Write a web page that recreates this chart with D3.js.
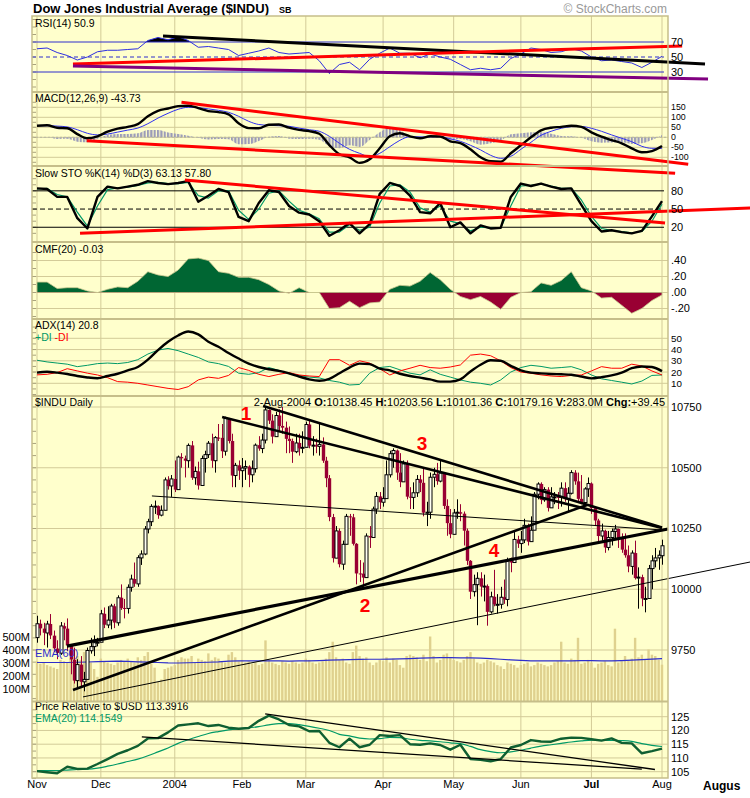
<!DOCTYPE html>
<html><head><meta charset="utf-8">
<script src="https://cdn.jsdelivr.net/npm/d3@7"></script>
<style>body{margin:0;background:#fff}svg{display:block;font-family:"Liberation Sans",Arial,sans-serif}</style>
</head><body><svg id="c" width="750" height="798"></svg>
<script>
// ---------------- DATA ----------------
const monthIdx = [0,19,41,61,80,103,124,144,165,186];
const monthLabels = ['Nov','Dec','2004','Feb','Mar','Apr','May','Jun','Jul','Aug'];

const open = [9801,9858,9838,9820,9857,9809,9756,9737,9848,9838,9768,9710,9624,9690,9619,9629,9747,9764,9780,
9782,9899,9853,9873,9930,9862,9965,9923,9921,10008,10042,10022,10129,10145,10248,10278,10341,10342,10305,10325,10450,10425,
10454,10410,10544,10538,10529,10592,10459,10485,10427,10538,10554,10601,10529,10624,10623,10568,10702,10610,10468,10510,
10488,10499,10505,10471,10496,10593,10579,10614,10738,10694,10628,10715,10672,10665,10619,10610,10566,10602,10580,
10584,10678,10591,10593,10588,10596,10529,10457,10297,10128,10240,10103,10185,10300,10296,10187,10065,10064,10048,10219,10213,10330,10382,
10358,10373,10471,10558,10571,10480,10442,10516,10381,10378,10397,10452,10438,10315,10317,10461,10473,10445,10478,10343,10272,
10226,10314,10317,10311,10241,10117,9990,10019,10045,10011,10013,9907,9969,9938,9938,9967,9958,10118,10110,10205,
10188,10203,10263,10196,10243,10391,10433,10368,10410,10335,10380,10380,10378,10416,10371,10395,10480,10444,10372,10357,10413,
10435,10334,10283,10219,10240,10172,10213,10238,10248,10209,10163,10140,10094,10149,10046,10050,9962,9962,10085,10117,10129,
10138];
const high = [9891,9875,9862,9870,9898,9830,9790,9865,9862,9880,9770,9760,9712,9725,9660,9760,9800,9810,9800,
9915,9925,9930,9940,9940,9975,10020,9960,10020,10060,10110,10140,10160,10260,10290,10350,10365,10345,10345,10460,10465,10470,
10530,10550,10560,10550,10600,10610,10505,10525,10550,10570,10610,10640,10630,10680,10680,10710,10705,10640,10520,10530,
10540,10530,10510,10530,10600,10630,10640,10753,10740,10720,10730,10740,10750,10690,10670,10620,10640,10640,10650,
10690,10700,10630,10620,10680,10625,10545,10470,10310,10260,10250,10200,10310,10310,10310,10190,10120,10110,10230,10260,10340,10400,10400,
10420,10530,10570,10580,10575,10560,10530,10530,10420,10440,10470,10470,10500,10360,10480,10500,10520,10535,10480,10370,10330,
10330,10370,10350,10320,10250,10120,10060,10070,10070,10060,10020,9990,10080,9980,10010,10040,10130,10130,10240,10220,
10240,10290,10270,10300,10400,10440,10440,10420,10420,10420,10400,10400,10440,10440,10420,10490,10490,10480,10470,10420,10460,
10440,10340,10290,10270,10245,10240,10250,10265,10250,10230,10230,10180,10160,10200,10090,10060,10010,10100,10140,10170,10160,
10204];
const low = [9780,9810,9770,9760,9795,9742,9712,9730,9790,9745,9650,9612,9595,9600,9580,9629,9735,9725,9765,
9782,9840,9840,9835,9840,9850,9915,9880,9900,9990,10010,10010,10100,10140,10230,10260,10310,10290,10300,10325,10410,10380,
10400,10410,10500,10460,10500,10450,10430,10410,10427,10480,10540,10500,10480,10610,10540,10550,10600,10420,10420,10450,
10420,10450,10420,10440,10480,10570,10560,10600,10680,10600,10628,10650,10640,10560,10560,10520,10560,10550,10560,
10584,10580,10550,10560,10550,10520,10420,10280,10110,10128,10090,10080,10185,10220,10180,10020,10030,10005,10048,10170,10213,10310,10330,
10340,10373,10460,10500,10450,10420,10442,10370,10330,10330,10380,10400,10300,10260,10290,10420,10430,10440,10330,10220,10210,
10226,10290,10280,10180,10100,9960,9970,9852,9970,9950,9850,9900,9930,9900,9920,9940,9930,10070,10110,10170,
10150,10190,10180,10196,10243,10370,10350,10360,10320,10335,10350,10330,10340,10360,10320,10390,10430,10360,10350,10350,10380,
10310,10260,10190,10200,10150,10160,10180,10210,10170,10150,10130,10070,10060,10040,9920,9930,9905,9962,10000,10090,10080,
10101];
const close = [9858,9839,9821,9857,9810,9757,9738,9849,9838,9769,9711,9624,9690,9619,9629,9748,9764,9780,9782,
9899,9854,9873,9931,9863,9965,9923,9922,10008,10042,10023,10130,10145,10248,10278,10341,10342,10305,10325,10450,10425,10454,
10410,10544,10539,10529,10592,10459,10485,10427,10538,10554,10601,10529,10624,10623,10568,10703,10610,10468,10510,10488,
10499,10505,10471,10496,10593,10579,10614,10738,10694,10628,10715,10672,10665,10619,10610,10566,10602,10580,10584,
10678,10591,10593,10588,10596,10529,10457,10297,10128,10240,10103,10185,10300,10296,10187,10065,10064,10048,10219,10213,10330,10382,10358,
10373,10471,10558,10571,10480,10442,10516,10381,10378,10397,10452,10438,10315,10317,10461,10473,10445,10478,10343,10272,10226,
10314,10317,10311,10241,10117,9990,10019,10045,10011,10013,9907,9969,9938,9938,9967,9958,10118,10110,10205,10188,
10203,10263,10196,10243,10391,10433,10368,10410,10335,10380,10380,10378,10416,10371,10395,10480,10444,10372,10357,10413,10435,
10334,10283,10219,10240,10172,10213,10238,10248,10209,10163,10140,10094,10149,10046,10050,9962,9962,10085,10117,10129,10140,
10179];
const volume = [310,290,300,280,270,260,250,320,310,300,330,340,350,320,380,330,300,250,190,
330,310,300,290,280,300,320,310,330,310,300,340,320,350,380,290,260,150,170,250,260,270,
280,320,340,330,330,350,300,330,320,310,370,320,340,330,310,300,360,380,340,310,
320,300,310,290,300,280,290,470,320,300,290,280,310,300,290,310,300,290,300,
330,320,300,290,300,310,330,380,460,340,320,330,300,290,380,430,350,330,340,300,280,300,320,
310,340,300,330,320,280,260,350,360,350,340,320,360,310,500,350,300,320,360,370,340,
320,310,300,320,350,380,330,300,290,300,320,310,300,280,270,250,300,290,280,260,
280,290,300,270,280,300,290,280,270,280,300,310,460,300,290,330,320,490,290,300,320,
300,260,290,300,310,280,270,560,300,310,350,320,330,490,340,360,320,400,360,350,320,
283];

// indicator readings, one every third trading day
const sampleIdx = [0,3,6,9,12,15,18,21,24,27,30,33,36,39,42,45,48,51,54,57,60,63,66,69,72,75,78,81,84,87,90,93,96,99,102,105,108,111,114,117,120,123,126,129,132,135,138,141,144,147,150,153,156,159,162,165,168,171,174,177,180,183,186];
const rsi = [61,62,56,52,46,50,57,59,59,60, 61,72,76,73,77,72,63,64,62,60, 52,55,58,62,56,54,55,56,45,28, 40,43,33,47,55,62,55,55,49,54, 50,47,40,33,35,33,35,48,54,62, 60,56,57,61,58,50,45,46,44,42, 36,43,50.9];
const macd = [58,60,48,45,16,-5,5,28,43,52, 66,105,132,144,156,158,146,131,126,115, 70,46,45,63,64,48,37,31,18,-39, -85,-100,-128,-110,-55,5,20,5,-5,5, 4,-20,-29,-60,-100,-120,-122,-80,-40,0, 35,48,52,58,52,25,3,-14,-30,-55, -75,-69,-43.73];
const macdSignal = [58,58,56,52,38,20,12,16,26,36, 46,68,96,120,140,150,148,142,135,125, 105,80,64,60,58,55,46,38,30,5, -30,-60,-80,-97,-80,-47,-15,3,2,2, 3,-8,-20,-40,-63,-90,-105,-95,-60,-25, 10,30,45,53,54,45,30,12,-5,-22, -45,-55,-55];
const macdHist = [0,2,-8,-7,-22,-25,-7,12,17,16, 20,37,36,24,16,8,-2,-11,-9,-10, -35,-34,-19,3,6,-7,-9,-7,-12,-44, -55,-40,-48,-13,25,52,35,2,-7,3, 1,-12,-9,-20,-37,-30,-17,15,20,25, 25,18,7,5,-2,-20,-27,-26,-25,-33, -30,-14,11];
const stoK = [84,83,70,70,35,18,70,87,84,87, 90,96,93,91,93,96,62,72,83,78, 37,30,60,81,78,55,44,41,30,6, 15,27,10,25,75,93,88,72,45,43, 60,20,28,10,23,18,19,70,92,88, 92,87,83,84,57,30,13,15,12,10, 14,38,63.13];
const stoD = [83,84,74,70,45,22,55,82,85,86, 89,93,94,92,92,94,72,68,80,80, 48,33,50,76,80,63,48,42,34,12, 12,24,15,20,60,88,90,78,52,45, 55,30,26,14,20,19,19,55,88,89, 91,88,84,84,65,38,18,15,13,11, 13,30,57.8];
const cmf = [0.13,0.13,0.05,0.06,0.06,0.02,0.0,0.04,0.07,0.06, 0.14,0.26,0.22,0.2,0.28,0.42,0.43,0.4,0.26,0.24, 0.19,0.19,0.16,0.1,0.02,-0.01,0.06,0.0,0.0,-0.2, -0.19,-0.11,-0.19,-0.13,-0.12,0.04,0.09,0.08,0.14,0.25, 0.16,0.04,-0.05,-0.09,-0.05,-0.12,-0.21,-0.06,0.0,0.01, 0.12,0.09,0.15,0.26,0.06,0.02,-0.07,-0.06,-0.16,-0.26, -0.2,-0.1,-0.03];
const adx = [19.5,20.3,19.5,18.3,16.5,15.2,14.5,16.5,18.5,21.5, 24.5,31,39.5,47,52.5,56,53.5,47,42.5,37, 32,27.5,24.5,22.5,21,18.8,16,13.5,12.3,14, 19,24,27.5,27,23,21.5,18.5,16.5,15,13.5, 11.5,11.5,13.5,20.5,26.5,30.5,30,25.5,21.5,19.5, 18.8,18.3,18,17.6,16,14.4,15.5,17,19.5,23.4, 25,24.5,20.8];
const plusDI = [30.5,29,28,27,24.8,26,27.5,28,27.5,28.5, 31,36,39.5,41,39,36,33,29,27.5,25, 19,18,19.5,24,21.5,18.5,17,15.5,14.8,12.5, 11,8.5,9,19,24,25,22,19,17.5,22, 18,15.5,13,11,10,8.5,13,20,24,26, 25,23.4,24,24.8,22,17.4,14,12.5,11,9.4, 12,17,17.4];
const minusDI = [17.5,18,19.5,23,21,19,17.4,15,11.5,11, 10,8.5,7,5.5,4.5,7,13,15.5,14.4,17, 24,21.5,18,16,18,19.5,17.4,16.5,16,31, 31,26,30,28,23,17.4,21,23.4,26,24, 23.4,24.5,26.3,35,36,34.5,30,24,20,18.9, 17.5,16.5,16,17,17.4,21,24.8,23.4,23.4,27, 25.4,21,17.4];
const relUSD = [105.2,104.8,104.4,106.8,106,106.1,107.8,109.6,111.5,112.8, 114.4,117.1,117.2,119.3,121.8,122.2,122.6,121.6,122,121, 120.6,120.9,123.5,125.4,124,122,121.5,119.7,119.8,115.5, 113.9,117,113.9,114.8,118.3,118,118.3,115,114.8,115.3, 114.7,113,114.8,109.6,109.3,108.8,109.6,113.8,114.7,116.5, 116,115.9,117,117.4,117.3,116.8,116.3,117.1,115.5,115.3, 111.7,112.5,113.4];
const relEMA = [105.4,105.4,105.4,105.6,105.8,105.9,106.3,107,107.8,108.7, 109.6,110.8,112.2,113.6,115.3,116.6,117.8,118.9,119.6,120.2, 120.6,120.9,121.4,122,122.5,122.5,122.1,121.5,120.8,120, 118.6,118,117.2,116.9,117,117.5,117.4,116.8,116.4,116.2, 115.9,115.5,115.2,114.2,113,112.3,111.9,112.2,112.8,113.6, 114.3,114.8,115.3,115.8,116.2,116.5,116.4,116.4,116.3,116, 115.2,114.6,114.15];
const volEMA = [300,300,300,300,302,304,306,308,310,308, 305,303,300,297,296,298,300,302,305,310, 312,312,312,313,312,311,312,313,315,318, 320,322,324,325,325,326,328,330,333,336, 338,338,336,335,333,330,325,320,316,313, 312,312,312,313,314,314,313,312,315,318, 322,326,330];

// hand-drawn trendlines: [startIndex, startValue, endIndex, endValue]
const rsiTrend = [[37.5,78,198.8,40.7],[10.7,40.7,192,64.7],[10.7,38,199.7,20.7]];
const rsiTrendColors = ['#000000','#FF0000','#800080'];
const macdTrend = [[43,175,193.8,-135],[14.8,-17,189.9,-180]];
const stoTrend = [[44,97.9,186.9,27],[12.8,10,212.2,51.7]];
const priceTrend = [[55.1,10709,186,10252],[67.3,10754,186,10254],[34.2,10384,186,10244],[10.7,9585,163.7,10347],[8.9,9766,187.8,10248],[13.7,9557,212.2,10112]];
const priceTrendWidth = [2.6,2.6,1,2.6,3.2,1];
const relTrend = [[67.9,126,183.9,105.8],[31.2,117.7,180,105.9]];
const waveLabels = ['1','2','3','4'];
const waveIdx = [62.2,97.6,114.6,136];
const wavePrice = [10696,9906,10573,10133];

const rsiTicks=[70,50,30], macdTicks=[150,100,50,0,-50,-100], stoTicks=[80,50,20], cmfTicks=[0.4,0.2,0,-0.2],
      adxTicks=[50,40,30,20,10], priceTicks=[10750,10500,10250,10000,9750], volTicks=[500,400,300,200,100], relTicks=[125,120,115,110,105];
const headerKeys=['O:','H:','L:','C:','V:','Chg:'];
const headerVals=['10138.45','10203.56','10101.36','10179.16','283.0M','+39.45'];

// ---------------- DRAW ----------------
const svg = d3.select('#c');
const L=32, R=668, BG='#FFFFCC', GRID='#D3CB98', SEP='#C6BE8A';
const x = d3.scaleLinear().domain([0,186]).range([37,662]);
const panels = {rsi:[16,92], macd:[92,166], sto:[166,242], cmf:[242,319], adx:[319,396], price:[396,701.5], rel:[701.5,778]};
const yRsi = d3.scaleLinear().domain([0,100]).range([94.5,19.5]);
const yMacd = d3.scaleLinear().domain([-100,150]).range([157.3,107.3]);
const ySto = d3.scaleLinear().domain([0,100]).range([239.4,178.7]);
const yCmf = d3.scaleLinear().domain([-0.2,0.4]).range([308.5,260.5]);
const yAdx = d3.scaleLinear().domain([10,50]).range([383.3,338.3]);
const yPrice = d3.scaleLinear().domain([9750,10750]).range([650,407]);
const yVol = d3.scaleLinear().domain([0,500]).range([701.5,636.5]);
const yRel = d3.scaleLinear().domain([105,125]).range([771.7,716.7]);

const defs = svg.append('defs');
Object.entries(panels).forEach(([k,[t,b]])=>{
  defs.append('clipPath').attr('id','cl-'+k).append('rect').attr('x',L).attr('y',t).attr('width',R-L).attr('height',b-t);
});
const pat = defs.append('pattern').attr('id','hst').attr('patternUnits','userSpaceOnUse').attr('x',x(0)-1).attr('y',0).attr('width',x(1)-x(0)).attr('height',20);
pat.append('rect').attr('width',2.2).attr('height',20).attr('fill','#9C9CB8');

svg.append('rect').attr('x',L).attr('y',16).attr('width',R-L).attr('height',778-16).attr('fill',BG);

// titles
svg.append('text').attr('x',33).attr('y',13).attr('font-size',13).attr('font-weight','bold').text('Dow Jones Industrial Average ($INDU)');
svg.append('text').attr('x',279).attr('y',12.5).attr('font-size',9).attr('font-weight','bold').text('SB');
svg.append('text').attr('x',667).attr('y',13).attr('text-anchor','end').attr('font-size',12).attr('fill','#999').text('\u00A9 StockCharts.com');

// month grid + horizontal grids
const gridG = svg.append('g');
Object.entries(panels).forEach(([k,[t,b]])=>{
  monthIdx.forEach(m=>gridG.append('line').attr('x1',x(m)).attr('x2',x(m)).attr('y1',t).attr('y2',b).attr('stroke',GRID));
});
function hgrid(vals, ys){ vals.forEach(v=>gridG.append('line').attr('x1',L).attr('x2',R).attr('y1',ys(v)).attr('y2',ys(v)).attr('stroke',GRID)); }
hgrid(macdTicks,yMacd); hgrid(cmfTicks,yCmf); hgrid(adxTicks,yAdx); hgrid(priceTicks,yPrice); hgrid(relTicks,yRel);
function lticks(ys, lo, hi, step){ for(let v=lo; v<=hi+1e-9; v+=step){ const yy=ys(v); gridG.append('line').attr('x1',L).attr('x2',L+4).attr('y1',yy).attr('y2',yy).attr('stroke','#A9A27E'); } }
lticks(yRsi,10,100,10); lticks(yMacd,-125,175,25); lticks(ySto,10,100,10); lticks(yCmf,-0.3,0.5,0.1); lticks(yAdx,0,60,5); lticks(yPrice,9550,10800,50); lticks(yRel,102.5,127.5,2.5);

// helpers
const samp = arr => sampleIdx.map((s,k)=>[s,arr[k]]);
function line(arr, ys, color, w, clipK, curve){
  svg.append('path').datum(samp(arr)).attr('d', d3.line().x(d=>x(d[0])).y(d=>ys(d[1])).curve(curve||d3.curveLinear))
    .attr('fill','none').attr('stroke',color).attr('stroke-width',w).attr('stroke-linejoin','round').attr('clip-path',clipK?`url(#cl-${clipK})`:null);
}
function trend(t, ys, color, w){
  svg.append('line').attr('x1',x(t[0])).attr('y1',ys(t[1])).attr('x2',x(t[2])).attr('y2',ys(t[3])).attr('stroke',color).attr('stroke-width',w);
}
function rlabels(vals, ys, fmt, fs){ const f=fs||11; vals.forEach(v=>svg.append('text').attr('x',671).attr('y',ys(v)+f*0.36).attr('font-size',f).text(fmt?fmt(v):v)); }
function title(txt, yy, color, fs){ return svg.append('text').attr('x',35).attr('y',yy).attr('font-size',fs||11).attr('fill',color||'#000').text(txt); }

// ---- RSI ----
const clipTop = defs.append('clipPath').attr('id','rsiTop'); clipTop.append('rect').attr('x',L).attr('y',16).attr('width',R-L).attr('height',yRsi(70)-16);
const clipBot = defs.append('clipPath').attr('id','rsiBot'); clipBot.append('rect').attr('x',L).attr('y',yRsi(30)).attr('width',R-L).attr('height',92-yRsi(30));
svg.append('path').datum(samp(rsi)).attr('d',d3.area().x(d=>x(d[0])).y0(yRsi(70)).y1(d=>yRsi(d[1]))).attr('fill','#000').attr('clip-path','url(#rsiTop)');
svg.append('path').datum(samp(rsi)).attr('d',d3.area().x(d=>x(d[0])).y0(yRsi(30)).y1(d=>yRsi(d[1]))).attr('fill','#000').attr('clip-path','url(#rsiBot)');
[70,30].forEach(v=>svg.append('line').attr('x1',L).attr('x2',R-4).attr('y1',yRsi(v)).attr('y2',yRsi(v)).attr('stroke','#2E2ECC'));
svg.append('line').attr('x1',L).attr('x2',R-4).attr('y1',yRsi(50)).attr('y2',yRsi(50)).attr('stroke','#2E2ECC').attr('stroke-dasharray','4,3');
line(rsi,yRsi,'#2E2EE0',1,'rsi');
rsiTrend.forEach((t,k)=>trend(t,yRsi,rsiTrendColors[k],3));
title('RSI(14)  50.9',26.5,null,10.5);
rlabels(rsiTicks,yRsi);

// ---- MACD ----
svg.append('path').datum(samp(macdHist)).attr('d',d3.area().x(d=>x(d[0])).y0(yMacd(0)).y1(d=>yMacd(d[1])).curve(d3.curveMonotoneX))
  .attr('fill','url(#hst)').attr('clip-path','url(#cl-macd)');
svg.append('line').attr('x1',L).attr('x2',R).attr('y1',yMacd(0)).attr('y2',yMacd(0)).attr('stroke','#B8B8A0').attr('stroke-dasharray','2,2');
line(macdSignal,yMacd,'#3030F0',1,'macd',d3.curveMonotoneX);
line(macd,yMacd,'#000',2.4,'macd',d3.curveMonotoneX);
macdTrend.forEach(t=>trend(t,yMacd,'#FF0000',3));
title('MACD(12,26,9)  -43.73',101.5,null,10.5);
rlabels(macdTicks,yMacd,null,8.8);

// ---- Slow STO ----
[80,20].forEach(v=>svg.append('line').attr('x1',L).attr('x2',R-4).attr('y1',ySto(v)).attr('y2',ySto(v)).attr('stroke','#000'));
svg.append('line').attr('x1',L).attr('x2',R-4).attr('y1',ySto(50)).attr('y2',ySto(50)).attr('stroke','#000').attr('stroke-dasharray','5,3');
line(stoD,ySto,'#009966',1.2,'sto');
line(stoK,ySto,'#000',2.4,'sto');
stoTrend.forEach(t=>trend(t,ySto,'#FF0000',3));
title('Slow STO %K(14) %D(3)  63.13  57.80',177,null,10.5);
rlabels(stoTicks,ySto);

// ---- CMF ----
const cPos = defs.append('clipPath').attr('id','cmfPos'); cPos.append('rect').attr('x',L).attr('y',242).attr('width',R-L).attr('height',yCmf(0)-242);
const cNeg = defs.append('clipPath').attr('id','cmfNeg'); cNeg.append('rect').attr('x',L).attr('y',yCmf(0)).attr('width',R-L).attr('height',319-yCmf(0));
const cmfArea = d3.area().x(d=>x(d[0])).y0(yCmf(0)).y1(d=>yCmf(d[1]));
svg.append('path').datum(samp(cmf)).attr('d',cmfArea).attr('fill','#006633').attr('stroke','#C8C890').attr('stroke-width',0.8).attr('clip-path','url(#cmfPos)');
svg.append('path').datum(samp(cmf)).attr('d',cmfArea).attr('fill','#990033').attr('stroke','#C8C890').attr('stroke-width',0.8).attr('clip-path','url(#cmfNeg)');
title('CMF(20)  -0.03',252.5,null,10.5);
rlabels(cmfTicks,yCmf,v=>v===0?'.00':(v<0?'-':'')+'.'+String(Math.round(Math.abs(v)*100)).padStart(2,'0'));

// ---- ADX ----
line(plusDI,yAdx,'#009966',1,'adx');
line(minusDI,yAdx,'#FF0000',1,'adx');
line(adx,yAdx,'#000',2.4,'adx',d3.curveMonotoneX);
title('ADX(14)  20.8',328.5,null,10.5);
const dl = svg.append('text').attr('x',35).attr('y',340.5).attr('font-size',10.5);
dl.append('tspan').attr('fill','#009966').text('+DI ');
dl.append('tspan').attr('fill','#FF0000').text('-DI');
rlabels(adxTicks,yAdx,null,9.8);

// ---- Price + volume ----
const pg = svg.append('g').attr('clip-path','url(#cl-price)');
close.forEach((c,i)=>{
  pg.append('rect').attr('x',x(i)-1.2).attr('width',2.4).attr('y',yVol(volume[i])).attr('height',yVol(0)-yVol(volume[i])).attr('fill','#DFD18E');
});
pg.append('path').datum(samp(volEMA)).attr('d',d3.line().x(d=>x(d[0])).y(d=>yVol(d[1]))).attr('fill','none').attr('stroke','#2E2ECC').attr('stroke-width',1.2);
close.forEach((c,i)=>{
  const o=open[i], up = c>=o, col = up?'#000':'#990033';
  const xc = Math.round(x(i))+0.5;
  pg.append('line').attr('x1',xc).attr('x2',xc).attr('y1',yPrice(high[i])).attr('y2',yPrice(low[i])).attr('stroke',col).attr('stroke-width',1);
  const top = yPrice(Math.max(o,c)), h = Math.max(1, yPrice(Math.min(o,c))-top);
  if(up) pg.append('rect').attr('x',xc-1.5).attr('y',top).attr('width',3).attr('height',h).attr('fill','#FFFFF2').attr('stroke','#000').attr('stroke-width',1);
  else pg.append('rect').attr('x',xc-1.7).attr('y',top).attr('width',3.4).attr('height',h).attr('fill','#990033');
});
priceTrend.forEach((t,k)=>trend(t,yPrice,'#000',priceTrendWidth[k]));
waveLabels.forEach((s,k)=>svg.append('text').attr('x',x(waveIdx[k])).attr('y',yPrice(wavePrice[k])).attr('text-anchor','middle')
  .attr('font-size',19).attr('font-weight','bold').attr('fill','#FF0000').text(s));
title('$INDU Daily',406,null,10.5);
const hd = svg.append('text').attr('x',665).attr('y',406).attr('text-anchor','end').attr('font-size',11).style('white-space','pre');
hd.append('tspan').text('2-Aug-2004 ');
headerKeys.forEach((kk,k)=>{ hd.append('tspan').attr('font-weight','bold').text(kk); hd.append('tspan').text(headerVals[k]+(k<headerKeys.length-1?' ':'')); });
rlabels(priceTicks,yPrice);
volTicks.forEach(v=>svg.append('text').attr('x',30).attr('y',yVol(v)+4).attr('text-anchor','end').attr('font-size',11).text(v+'M'));
svg.append('text').attr('x',35).attr('y',657).attr('font-size',11).attr('fill','#2E2ECC').text('EMA(60)');

// ---- Price relative ----
line(relEMA,yRel,'#009966',1.2,'rel',d3.curveMonotoneX);
line(relUSD,yRel,'#0F5F31',2.4,'rel');
relTrend.forEach(t=>trend(t,yRel,'#000',1.3));
title('Price Relative to $USD  113.3916',710,null,10.5);
title('EMA(20) 114.1549',721.5,'#009966',10.5);
rlabels(relTicks,yRel);

// separators / frame
[92,166,242,319,396,701.5].forEach(yy=>svg.append('line').attr('x1',L).attr('x2',R).attr('y1',yy).attr('y2',yy).attr('stroke',SEP).attr('stroke-width',2));
svg.append('rect').attr('x',L).attr('y',16).attr('width',R-L).attr('height',778-16).attr('fill','none').attr('stroke',SEP).attr('stroke-width',1.5);

// x axis labels
monthIdx.forEach((m,k)=>svg.append('text').attr('x',x(m)).attr('y',788).attr('text-anchor','middle').attr('font-size',11)
  .attr('font-weight',monthLabels[k]==='Jul'?'bold':'normal').text(monthLabels[k]));
svg.append('text').attr('x',703).attr('y',790).attr('font-size',12).attr('font-weight','bold').text('Augus');
</script></body></html>
